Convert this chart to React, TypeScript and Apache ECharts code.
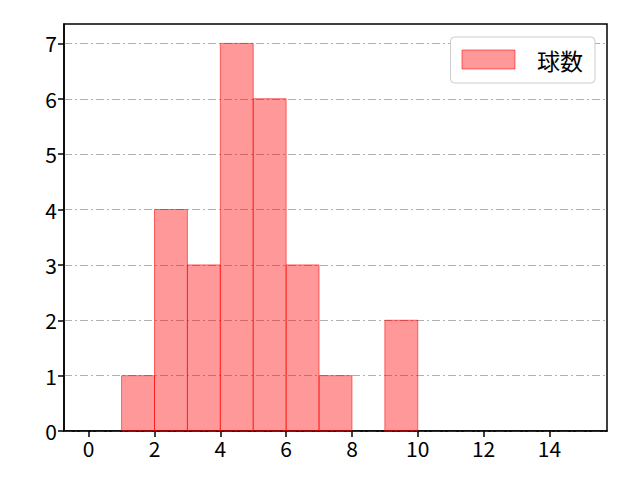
import { useEffect, useRef } from 'react';
import * as echarts from 'echarts';

// histogram bins (left edge, right edge) and counts
const binLeft = [1, 2, 3, 4, 5, 6, 7, 8, 9];
const binRight = [2, 3, 4, 5, 6, 7, 8, 9, 10];
const counts = [1, 4, 3, 7, 6, 3, 1, 0, 2];
const xTicks = [0, 2, 4, 6, 8, 10, 12, 14];
const yTicks = [0, 1, 2, 3, 4, 5, 6, 7];
const seriesName = '球数';

const FONT = '"Noto Sans CJK JP", sans-serif';
const FILL = 'rgba(255,0,0,0.4)';
const EDGE = 'rgba(255,0,0,0.55)';

export default function App() {
  const ref = useRef<HTMLDivElement>(null);

  useEffect(() => {
    document.body.style.margin = '0';
    const dom = ref.current!;
    const chart = echarts.init(dom, null, { renderer: 'svg' });

    const data = binLeft
      .map((lo, i) => [lo, binRight[i], counts[i]])
      .filter((d) => d[2] > 0);

    chart.setOption({
      animation: false,
      backgroundColor: '#fff',
      textStyle: { fontFamily: FONT },
      grid: {
        left: 64,
        top: 24,
        right: 33,
        bottom: 49,
        show: true,
        borderColor: '#000',
        borderWidth: 1.5,
        backgroundColor: 'transparent',
      },
      legend: {
        right: 45,
        top: 37,
        data: [{ name: seriesName, icon: 'rect' }],
        itemWidth: 53,
        itemHeight: 19,
        padding: [11, 12, 12, 11],
        backgroundColor: '#fff',
        borderColor: '#cccccc',
        borderWidth: 1,
        borderRadius: 4,
        itemStyle: { color: FILL, borderColor: EDGE, borderWidth: 1 },
        textStyle: { fontSize: 23, color: '#000', fontFamily: FONT, padding: [0, 0, 0, 17] },
      },
      xAxis: {
        type: 'value',
        min: -0.75,
        max: 15.75,
        axisLine: { show: true, onZero: false, lineStyle: { color: '#000', width: 1.5 } },
        axisTick: { show: true, length: 6, customValues: xTicks, lineStyle: { color: '#000', width: 1.5 } },
        axisLabel: { customValues: xTicks, fontSize: 21, color: '#000', margin: 6, fontFamily: FONT },
        splitLine: { show: false },
      },
      yAxis: {
        type: 'value',
        min: 0,
        max: 7.35,
        interval: 1,
        axisLine: { show: true, onZero: false, lineStyle: { color: '#000', width: 1.5 } },
        axisTick: { show: true, length: 6, customValues: yTicks, lineStyle: { color: '#000', width: 1.5 } },
        axisLabel: { customValues: yTicks, fontSize: 21, color: '#000', margin: 7, fontFamily: FONT },
        splitLine: {
          show: true,
          lineStyle: { color: '#b0b0b0', width: 1, type: [8, 3, 2, 3] },
        },
      },
      series: [
        {
          type: 'custom',
          name: seriesName,
          data,
          encode: { x: [0, 1], y: 2 },
          itemStyle: { color: FILL, borderColor: EDGE },
          renderItem: (params: any, api: any) => {
            const p0 = api.coord([api.value(0), 0]);
            const p1 = api.coord([api.value(1), api.value(2)]);
            return {
              type: 'rect',
              shape: { x: p0[0], y: p1[1], width: p1[0] - p0[0], height: p0[1] - p1[1] },
              style: { fill: FILL, stroke: EDGE, lineWidth: 1 },
            };
          },
        },
      ],
    } as echarts.EChartsOption);

    return () => {
      chart.dispose();
    };
  }, []);

  return <div ref={ref} style={{ width: 640, height: 480 }} />;
}
